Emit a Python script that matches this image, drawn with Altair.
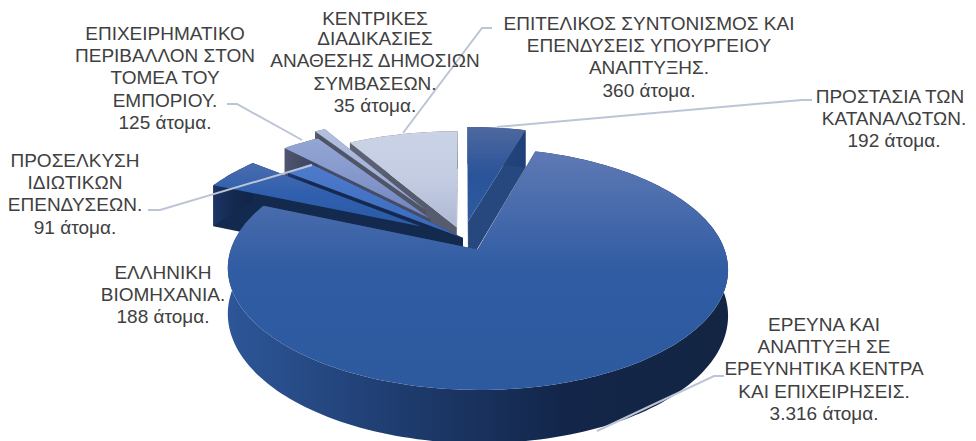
import math
import altair as alt
import pandas as pd

# --- data
names = ["ΠΡΟΣΤΑΣΙΑ ΤΩΝ ΚΑΤΑΝΑΛΩΤΩΝ", "ΕΡΕΥΝΑ ΚΑΙ ΑΝΑΠΤΥΞΗ", "ΕΛΛΗΝΙΚΗ ΒΙΟΜΗΧΑΝΙΑ",
         "ΠΡΟΣΕΛΚΥΣΗ ΙΔΙΩΤΙΚΩΝ ΕΠΕΝΔΥΣΕΩΝ", "ΕΠΙΧΕΙΡΗΜΑΤΙΚΟ ΠΕΡΙΒΑΛΛΟΝ",
         "ΚΕΝΤΡΙΚΕΣ ΔΙΑΔΙΚΑΣΙΕΣ", "ΕΠΙΤΕΛΙΚΟΣ ΣΥΝΤΟΝΙΣΜΟΣ"]
values = [192, 3316, 188, 91, 125, 35, 360]
explode = [0.15, 0.11, 0.20, 0.0, 0.22, 0.30, 0.10]

top_colors = [
    ["#4e689f", "#2a5499", "#2d5aa0"],
    ["#5f79b4", "#305ca3", "#2d599f"],
    ["#4a6cae", "#2f5fae", "#2c5aa6"],
    ["#4f7bcb", "#4472c4", "#3766b8"],
    ["#94a6d3", "#8497cc", "#6d83bd"],
    ["#b4c0df", "#a6b4da", "#8c9ccb"],
    ["#cbd3e6", "#c3cce2", "#aeb8d3"],
]
wall_colors = [
    ["#2a4f8e", "#254679", "#1f3f78"],
    ["#2d5698", "#1f3d70", "#13264a", "#132542"],
    ["#1b3566", "#14294e", "#11254a"],
    ["#1b3a70", "#162f5c", "#14294e"],
    ["#4e5570", "#454b63", "#3d4358"],
    ["#565c6d", "#4c5263", "#4c5263"],
    ["#5e6475", "#565c6d", "#4e5465"],
]
cut_colors = ["#27477f", "#1f3d70", "#14294e", "#14294e", "#474c62", "#4f5466", "#565c6d"]
draw_order = [6, 0, 5, 4, 3, 2, 1]

label_groups = [
    (["ΕΠΙΧΕΙΡΗΜΑΤΙΚΟ", "ΠΕΡΙΒΑΛΛΟΝ ΣΤΟΝ", "ΤΟΜΕΑ ΤΟΥ", "ΕΜΠΟΡΙΟΥ.", "125 άτομα."], 165, 34),
    (["ΚΕΝΤΡΙΚΕΣ"], 375, 18.5),
    (["ΔΙΑΔΙΚΑΣΙΕΣ", "ΑΝΑΘΕΣΗΣ ΔΗΜΟΣΙΩΝ", "ΣΥΜΒΑΣΕΩΝ.", "35 άτομα."], 375, 39.2),
    (["ΕΠΙΤΕΛΙΚΟΣ ΣΥΝΤΟΝΙΣΜΟΣ ΚΑΙ", "ΕΠΕΝΔΥΣΕΙΣ ΥΠΟΥΡΓΕΙΟΥ", "ΑΝΑΠΤΥΞΗΣ.", "360 άτομα."], 649, 24),
    (["ΠΡΟΣΤΑΣΙΑ ΤΩΝ"], 890, 97),
    (["ΚΑΤΑΝΑΛΩΤΩΝ.", "192 άτομα."], 894, 119.2),
    (["ΠΡΟΣΕΛΚΥΣΗ", "ΙΔΙΩΤΙΚΩΝ", "ΕΠΕΝΔΥΣΕΩΝ.", "91 άτομα."], 75, 161),
    (["ΕΛΛΗΝΙΚΗ", "ΒΙΟΜΗΧΑΝΙΑ.", "188 άτομα."], 163, 273),
    (["ΕΡΕΥΝΑ ΚΑΙ", "ΑΝΑΠΤΥΞΗ ΣΕ", "ΕΡΕΥΝΗΤΙΚΑ ΚΕΝΤΡΑ", "ΚΑΙ ΕΠΙΧΕΙΡΗΣΕΙΣ.", "3.316 άτομα."], 824, 325),
]
leaders = [
    [(492, 28), (482, 28), (403, 133)],
    [(227, 104), (237, 104), (302, 140)],
    [(148, 210), (160, 210), (312, 165)],
    [(812, 100), (802, 100), (497, 127)],
    [(724, 376), (714, 376), (597, 431)],
]

# --- perspective of the disc
cx, cy, a, b, k, h = 463, 238, 247, 114.2, 0.158, 44
main_cx, main_a = 466, 243
LINE_STEP = 22.2


def proj(u, v, drop=0.0, c=cx, s=a):
    w = 1 + k * v
    return c + s * u / w, cy - b * v / w + drop * h / w


x_scale = alt.Scale(domain=[8, 968], range=[0, 960], nice=False, zero=False)
y_scale = alt.Scale(domain=[8, 441], range=[0, 433], nice=False, zero=False)


def grad(colors, horizontal=False):
    n = len(colors) - 1
    stops = [alt.GradientStop(offset=i / n, color=c) for i, c in enumerate(colors)]
    if horizontal:
        return alt.Gradient(gradient="linear", stops=stops, x1=0, y1=0, x2=1, y2=0)
    return alt.Gradient(gradient="linear", stops=stops, x1=0, y1=0, x2=0, y2=1)


def polygon(points, fill):
    df = pd.DataFrame([{"px": p[0], "py": p[1], "i": i} for i, p in enumerate(points)])
    return alt.Chart(df).mark_line(fill=fill, stroke=None, strokeWidth=0, interpolate="linear").encode(
        x=alt.X("px:Q", scale=x_scale, axis=None),
        y=alt.Y("py:Q", scale=y_scale, axis=None),
        order="i:Q",
    )


total = sum(values)
starts = []
acc = 0
for val in values:
    starts.append(acc / total * 360)
    acc += val

layers = []
for idx in draw_order:
    s = starts[idx]
    e = s + values[idx] / total * 360
    m = math.radians((s + e) / 2)
    du, dv = explode[idx] * math.sin(m), explode[idx] * math.cos(m)
    n = max(2, int((e - s) / 1.5))
    c0, s0 = (main_cx, main_a) if idx == 1 else (cx, a)
    rim = []
    for j in range(n + 1):
        t = math.radians(s + (e - s) * j / n)
        rim.append((du + math.sin(t), dv + math.cos(t)))
    apex = (du, dv)
    top = [proj(*apex, 0, c0, s0)] + [proj(*r, 0, c0, s0) for r in rim]
    outer = [proj(*r, 0, c0, s0) for r in rim] + [proj(*r, 1, c0, s0) for r in reversed(rim)]
    for r in (rim[0], rim[-1]):
        cut = [proj(*apex, 0, c0, s0), proj(*r, 0, c0, s0), proj(*r, 1, c0, s0), proj(*apex, 1, c0, s0)]
        layers.append(polygon(cut, cut_colors[idx]))
    layers.append(polygon(outer, grad(wall_colors[idx], True)))
    layers.append(polygon(top, grad(top_colors[idx])))

leader_rows = []
for li, pts in enumerate(leaders):
    for pi, (px, py) in enumerate(pts):
        leader_rows.append({"px": px, "py": py, "i": pi, "l": li})
leader_layer = alt.Chart(pd.DataFrame(leader_rows)).mark_line(color="#bcc5d6", strokeWidth=2).encode(
    x=alt.X("px:Q", scale=x_scale, axis=None),
    y=alt.Y("py:Q", scale=y_scale, axis=None),
    detail="l:N",
    order="i:Q",
)

text_rows = []
for lines, tx, ty in label_groups:
    for li, line in enumerate(lines):
        text_rows.append({"px": tx, "py": ty + li * LINE_STEP, "t": line})
text_layer = alt.Chart(pd.DataFrame(text_rows)).mark_text(
    font="Liberation Sans", fontSize=19, color="#404040", align="center", baseline="middle"
).encode(
    x=alt.X("px:Q", scale=x_scale, axis=None),
    y=alt.Y("py:Q", scale=y_scale, axis=None),
    text="t:N",
)

chart = alt.layer(*layers, leader_layer, text_layer).properties(
    width=960, height=433, padding=0, background="white",
    autosize=alt.AutoSizeParams(type="none"),
).configure_view(stroke=None)

chart.save("out.html", embed_options={"renderer": "svg", "actions": False})
